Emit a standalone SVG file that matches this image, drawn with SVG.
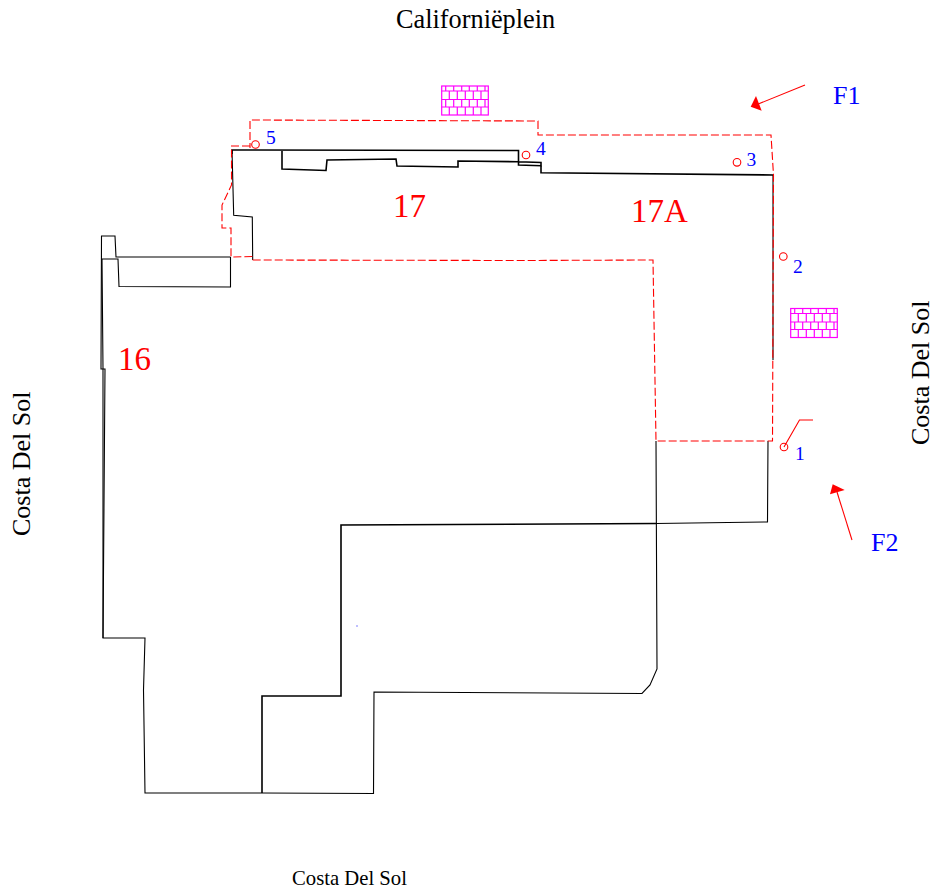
<svg xmlns="http://www.w3.org/2000/svg" width="935" height="892" viewBox="0 0 935 892">
<style>
text{font-family:"Liberation Serif","Times New Roman",serif}
.k{fill:none;stroke:#000;stroke-width:1.1}
.k2{fill:none;stroke:#000;stroke-width:1.6}
.r{fill:none;stroke:#f00;stroke-width:1.1}
.d{fill:none;stroke:#f00;stroke-width:1.1;stroke-dasharray:8 3}
.lab{fill:#f00;font-size:33px}
.blk{fill:#000;font-size:26px}
.blu{fill:#00f;font-size:26px}
.num{fill:#00f;font-size:19.500px}
.w{fill:none;stroke:#f0f;stroke-width:1.2}
</style>
<defs>
<g id="wall" class="w">
<rect x="0" y="0" width="46.6" height="29"/>
<path d="M0 5H46.6M0 13.500H46.6M0 21H46.6"/>
<path d="M4 0V5M12 0V5M20 0V5M27.600 0V5M35.600 0V5M43.300 0V5"/>
<path d="M7.600 5V13.500M15.600 5V13.500M23.600 5V13.500M31.600 5V13.500M39.300 5V13.500"/>
<path d="M4 13.500V21M12 13.500V21M20 13.500V21M27.600 13.500V21M35.600 13.500V21M43.300 13.500V21"/>
<path d="M7.600 21V29M15.600 21V29M23.600 21V29M31.600 21V29M39.300 21V29"/>
</g>
</defs>
<g id="connectors">
<path class="k2" d="M232 154V150L518.500 150.500V165L541 165.700V162.500L518.500 161.700L458 161L458 167L397 166L396 159L327 160L326 170.500L282 169V150"/>
<path class="k" d="M232 150L233.700 215.300L252.300 217L252.700 260"/>
<path class="k2" d="M541 165.700V172.700L773 175"/>
<path class="k" d="M773 175V360"/>
<path class="k" d="M230.500 257H116L115 236H101.500L101 369H105L103 638H145L143.500 690L145 793H262"/>
<path class="k" d="M262 793L373.500 793.500L374 692L642 693.500L650 685L657 669L656 441M768 441L767.500 522L656 523.500"/>
<path class="k2" d="M656 523.500L341 525L341 696H262V793"/>
<path class="k" d="M101.500 259H118L119 286.500L230.500 287V257M102 259L103 369V638"/>
<path class="d" d="M252.700 260L520 260.500L653 260L656 441H772.500L773.500 175L771 135H538V121L250 120V148M250 146H231.500V185L222 205V228H231V257L252.700 256.500"/>
<path class="r" d="M784 447L799.500 420H813"/>
<path class="r" d="M805 85L757 104.500"/>
<path fill="#f00" d="M750.700 106.700L756 96L761.700 110.700Z"/>
<path class="r" d="M852 540L837 492"/>
<path fill="#f00" d="M832.700 484.300L830 494.300L844.700 490Z"/>
</g>
<g id="walls">
<use href="#wall" x="441.700" y="86"/>
<use href="#wall" x="790.700" y="308.500"/>
</g>
<g id="p1"><circle class="r" cx="784" cy="447" r="3.800"/><text class="num" x="795" y="460">1</text></g>
<g id="p2"><circle class="r" cx="783.300" cy="256.500" r="3.800"/><text class="num" x="793" y="273">2</text></g>
<g id="p3"><circle class="r" cx="737" cy="162.300" r="3.800"/><text class="num" x="746.500" y="166">3</text></g>
<g id="p4"><circle class="r" cx="526" cy="155" r="3.800"/><text class="num" x="536" y="155">4</text></g>
<g id="p5"><circle class="r" cx="255.500" cy="144.500" r="3.800"/><text class="num" x="266" y="144">5</text></g>
<text class="lab" x="393" y="217">17</text>
<text class="lab" x="631" y="222">17A</text>
<text class="lab" x="118" y="370">16</text>
<text class="blu" x="833" y="104">F1</text>
<text class="blu" x="871" y="551">F2</text>
<text class="blk" style="font-size:26.300px" x="396" y="28">Californiëplein</text>
<text class="blk" style="font-size:20.700px" x="292" y="885">Costa Del Sol</text>
<text class="blk" transform="translate(30 536) rotate(-90)">Costa Del Sol</text>
<text class="blk" transform="translate(929 445) rotate(-90)">Costa Del Sol</text>
<rect x="356.500" y="625.500" width="1" height="1" fill="#00f"/>
</svg>
